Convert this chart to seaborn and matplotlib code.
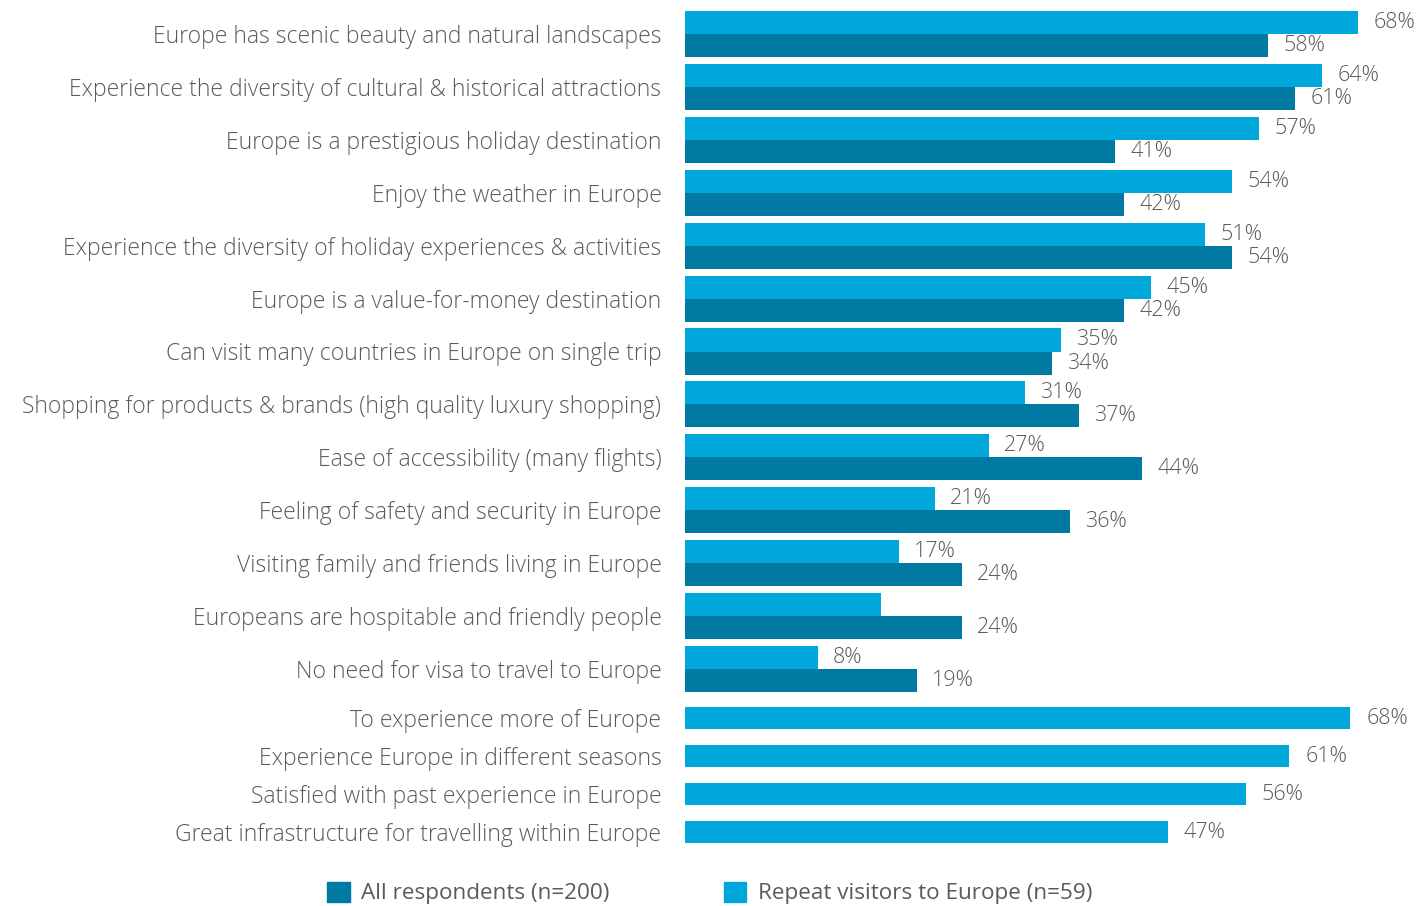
import pandas as pd
import seaborn as sns
import matplotlib.pyplot as plt
from matplotlib.patches import Patch

# top block: both groups answered
categories = [
    "Europe has scenic beauty and natural landscapes",
    "Experience the diversity of cultural & historical attractions",
    "Europe is a prestigious holiday destination",
    "Enjoy the weather in Europe",
    "Experience the diversity of holiday experiences & activities",
    "Europe is a value-for-money destination",
    "Can visit many countries in Europe on single trip",
    "Shopping for products & brands (high quality luxury shopping)",
    "Ease of accessibility (many flights)",
    "Feeling of safety and security in Europe",
    "Visiting family and friends living in Europe",
    "Europeans are hospitable and friendly people",
    "No need for visa to travel to Europe",
]
repeat_values = [68, 64, 57, 54, 51, 45, 35, 31, 27, 21, 17, 15, 8]
all_values = [58, 61, 41, 42, 54, 42, 34, 37, 44, 36, 24, 24, 19]
# the hospitable bar carries no label in the source
repeat_labels = ["68%", "64%", "57%", "54%", "51%", "45%", "35%", "31%",
                 "27%", "21%", "17%", "", "8%"]

# bottom block: repeat visitors only
extra_categories = [
    "To experience more of Europe",
    "Experience Europe in different seasons",
    "Satisfied with past experience in Europe",
    "Great infrastructure for travelling within Europe",
]
extra_values = [68, 61, 56, 47]

series_all = "All respondents (n=200)"
series_repeat = "Repeat visitors to Europe (n=59)"
color_all = "#0079a3"
color_repeat = "#00a7da"
text_color = "#5a5a5a"

# bars in the source start a little left of their zero point
top_base = 6.8
bottom_base = 8.4

sns.set_style("white")
plt.rcParams["font.family"] = ["Open Sans", "DejaVu Sans"]

fig = plt.figure(figsize=(14.19, 9.06), dpi=100)
ax_top = fig.add_axes([685 / 1419, 1 - 695.5 / 906, 734 / 1419, 688 / 906])
ax_bot = fig.add_axes([685 / 1419, 1 - 851 / 906, 734 / 1419, 152 / 906])

top_df = pd.DataFrame({
    "category": categories * 2,
    "series": [series_repeat] * len(categories) + [series_all] * len(categories),
    "value": repeat_values + all_values,
})
top_df["length"] = top_df["value"] + top_base

sns.barplot(data=top_df, x="length", y="category", hue="series",
            hue_order=[series_repeat, series_all],
            palette=[color_repeat, color_all], orient="h", width=0.87,
            dodge=True, legend=False, ax=ax_top, saturation=1, linewidth=0)

label_kw = dict(color=text_color, fontsize=15.5, fontweight="light")
ax_top.bar_label(ax_top.containers[0], labels=repeat_labels, padding=10.8,
                 **label_kw)
ax_top.bar_label(ax_top.containers[1], labels=[f"{v}%" for v in all_values],
                 padding=10.8, **label_kw)

bot_df = pd.DataFrame({"category": extra_categories, "value": extra_values})
bot_df["length"] = bot_df["value"] + bottom_base
sns.barplot(data=bot_df, x="length", y="category", color=color_repeat,
            orient="h", width=0.6, ax=ax_bot, saturation=1, linewidth=0)
ax_bot.bar_label(ax_bot.containers[0], labels=[f"{v}%" for v in extra_values],
                 padding=11.5, **label_kw)

ax_top.set_xlim(0, 734 / 9.0)
ax_bot.set_xlim(0, 734 / 8.71)
ax_top.set_ylim(len(categories) - 0.5, -0.5)
ax_bot.set_ylim(len(extra_categories) - 0.5, -0.5)

for ax in (ax_top, ax_bot):
    ax.set_xlabel("")
    ax.set_ylabel("")
    ax.set_xticks([])
    ax.tick_params(axis="y", length=0, pad=17, labelsize=16.5,
                   labelcolor=text_color)
    for lab in ax.get_yticklabels():
        lab.set_fontweight("light")
    sns.despine(ax=ax, left=True, bottom=True)

handles = [Patch(color=color_all, label=series_all),
           Patch(color=color_repeat, label=series_repeat)]
fig.legend(handles=handles, loc="center", bbox_to_anchor=(0.5, 1 - 893 / 906),
           ncol=2, frameon=False, fontsize=16.2, labelcolor=text_color,
           handlelength=1.0, handleheight=1.0, handletextpad=0.5,
           columnspacing=5.1, borderpad=0)

fig.savefig("out.png", dpi=100)
